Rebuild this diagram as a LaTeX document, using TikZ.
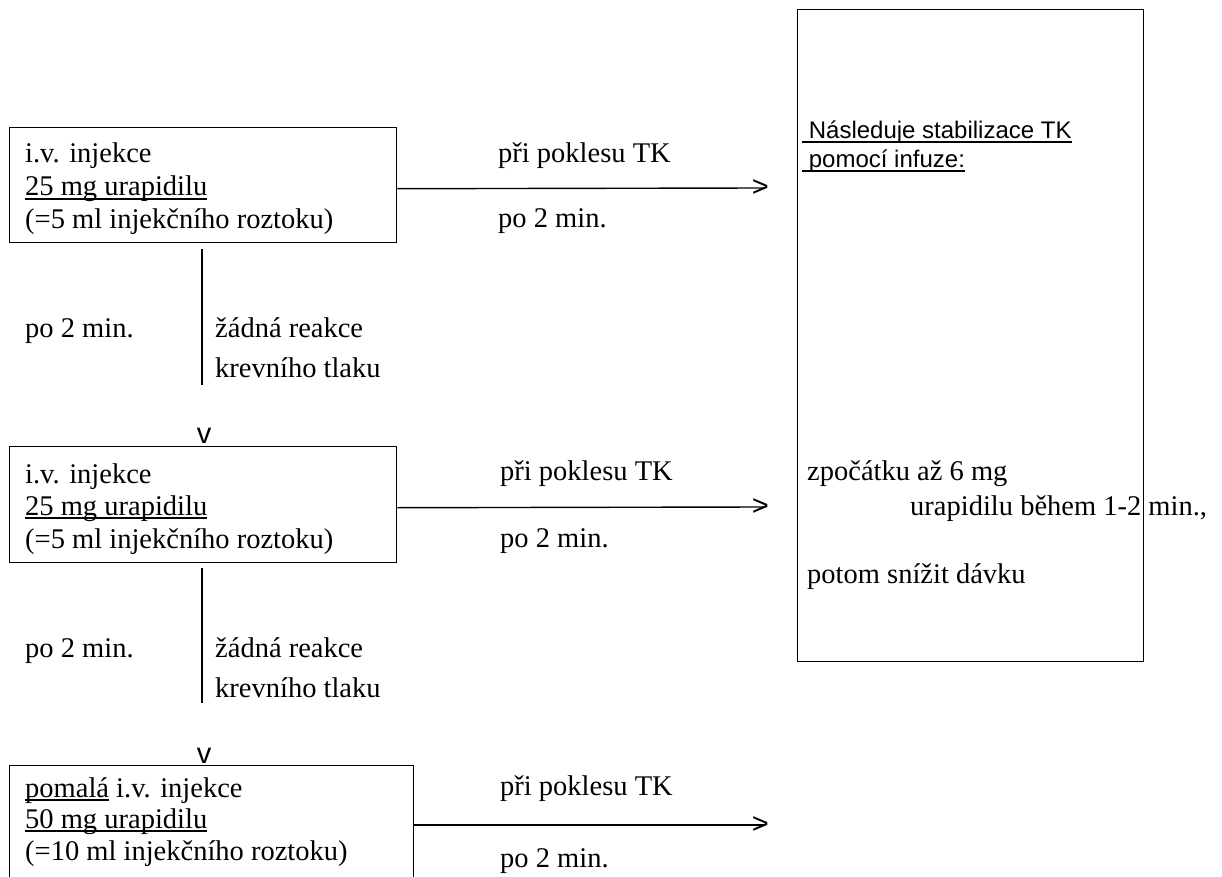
\documentclass[tikz,border=0pt]{standalone}
\usepackage{fontspec}
\setmainfont{Liberation Serif}
\newfontfamily\arialf{Liberation Sans}
\newcommand\myul[1]{\setbox0\hbox{#1}\rlap{\rule[-3.6pt]{\wd0}{1.6pt}}\box0\relax}
\begin{document}
\begin{tikzpicture}[x=1pt,y=-1pt,
  txt/.style={anchor=base west, inner sep=0pt, font=\fontsize{28.5}{33}\selectfont},
  atxt/.style={anchor=base west, inner sep=0pt, font=\arialf\fontsize{24}{28}\selectfont},
  boxnode/.style={draw, line width=1.4pt, anchor=north west, inner sep=0pt},
  tip/.style={inner sep=0pt, font=\arialf\fontsize{29}{32}\selectfont},
  conn/.style={line width=1.4pt}]
\useasboundingbox (0,0) rectangle (1222,877);
\clip (0,0) rectangle (1222,877);

% boxes
\node[boxnode, minimum width=387pt, minimum height=115pt] (b1) at (9,127) {};
\node[boxnode, minimum width=387pt, minimum height=116pt] (b2) at (9,446) {};
\node[boxnode, minimum width=404pt, minimum height=130pt] (b3) at (9,765) {};
\node[boxnode, minimum width=346pt, minimum height=652pt] (R) at (797,9) {};

% box 1 text
\node[txt] (b1l1) at (25,163) {i.v. injekce};
\node[txt] (b1l2) at (25,196) {\myul{25 mg urapidilu}};
\node[txt] (b1l3) at (25,229) {(=5 ml injekčního roztoku)};
% box 2 text
\node[txt] (b2l1) at (25,483) {i.v. injekce};
\node[txt] (b2l2) at (25,515) {\myul{25 mg urapidilu}};
\node[txt] (b2l3) at (25,548) {(=5 ml injekčního roztoku)};
% box 3 text
\node[txt] (b3l1) at (25,797) {\myul{pomalá} i.v. injekce};
\node[txt] (b3l2) at (25,828) {\myul{50 mg urapidilu}};
\node[txt] (b3l3) at (25,860) {(=10 ml injekčního roztoku)};

% right box text
\node[atxt] (r1) at (802,139) {\myul{\ Následuje stabilizace TK}};
\node[atxt] (r2) at (802,168) {\myul{\ pomocí infuze:}};
\node[txt] (r3) at (807,480) {zpočátku až 6 mg};
\node[txt] (r4) at (910,515) {urapidilu během 1-2 min.,};
\node[txt] (r5) at (807,583) {potom snížit dávku};

% horizontal arrows
\node[tip, anchor=east] (g1) at (769,188) {>};
\node[tip, anchor=east] (g2) at (769,507) {>};
\node[tip, anchor=east] (g3) at (769,825) {>};
\draw[conn] ([yshift=-3.5pt]b1.east) -- ([xshift=-5pt]g1.east);
\draw[conn] ([yshift=-3pt]b2.east) -- ([xshift=-5pt]g2.east);
\draw[conn] ([yshift=-60pt]b3.north east) -- ([xshift=-5pt]g3.east);

\node[txt] (a1t) at (498,163) {při poklesu TK};
\node[txt] (a1b) at (498,228) {po 2 min.};
\node[txt] (a2t) at (500,480) {při poklesu TK};
\node[txt] (a2b) at (500,547) {po 2 min.};
\node[txt] (a3t) at (500,795) {při poklesu TK};
\node[txt] (a3b) at (500,867) {po 2 min.};

% vertical connectors
\coordinate (c1a) at (202,249);
\coordinate (c1b) at (202,385);
\coordinate (c2a) at (202,568);
\coordinate (c2b) at (202,703);
\draw[conn] (c1a) -- (c1b);
\draw[conn] (c2a) -- (c2b);
\node[tip, anchor=base] (v1) at (204,443) {v};
\node[tip, anchor=base] (v2) at (204,763) {v};

\node[txt] (s1a) at (25,337) {po 2 min.};
\node[txt] (s1b) at (215,337) {žádná reakce};
\node[txt] (s1c) at (215,377) {krevního tlaku};
\node[txt] (s2a) at (25,657) {po 2 min.};
\node[txt] (s2b) at (215,657) {žádná reakce};
\node[txt] (s2c) at (215,697) {krevního tlaku};
\end{tikzpicture}
\end{document}
